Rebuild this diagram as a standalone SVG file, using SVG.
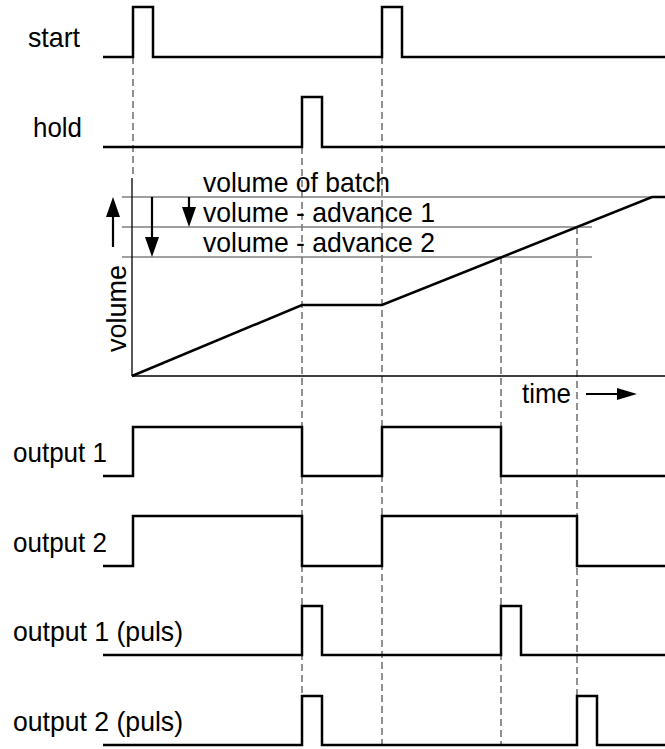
<svg xmlns="http://www.w3.org/2000/svg" width="665" height="749" viewBox="0 0 665 749">
<style>
text{font-family:"Liberation Sans",Arial,sans-serif;font-size:28px;fill:#000}
.sig{fill:none;stroke:#000;stroke-width:2.5;stroke-linejoin:miter}
.dash{fill:none;stroke:#222;stroke-width:1;stroke-dasharray:7 4}
.lvl{fill:none;stroke:#7f7f7f;stroke-width:1.6}
.axis{fill:none;stroke:#000;stroke-width:1.3}
.arr{fill:none;stroke:#000;stroke-width:2.2}
</style>
<rect width="665" height="749" fill="#fff"/>
<g id="guides">
<line class="dash" x1="133" y1="57" x2="133" y2="178"/>
<line class="dash" x1="302" y1="147" x2="302" y2="745"/>
<line class="dash" x1="382" y1="57" x2="382" y2="745"/>
<line class="dash" x1="501" y1="257" x2="501" y2="745"/>
<line class="dash" x1="577" y1="227" x2="577" y2="745"/>
</g>
<g id="start">
<text x="28" y="47" textLength="52" lengthAdjust="spacingAndGlyphs">start</text>
<path class="sig" d="M103,57H133V7H153V57H382V7H402V57H665"/>
</g>
<g id="hold">
<text x="33" y="137" textLength="49" lengthAdjust="spacingAndGlyphs">hold</text>
<path class="sig" d="M103,147H302V97H322V147H665"/>
</g>
<g id="volume-graph">
<line class="lvl" x1="122" y1="197" x2="665" y2="197"/>
<line class="lvl" x1="122" y1="227" x2="592" y2="227"/>
<line class="lvl" x1="122" y1="257" x2="592" y2="257"/>
<line class="axis" x1="132" y1="178" x2="132" y2="376"/>
<line class="axis" x1="132" y1="376" x2="665" y2="376"/>
<path class="sig" d="M132,376L302,305H382L652,197H665"/>
<text x="203" y="192" textLength="187" lengthAdjust="spacingAndGlyphs">volume of batch</text>
<text x="203" y="222" textLength="232" lengthAdjust="spacingAndGlyphs">volume - advance 1</text>
<text x="203" y="252" textLength="232" lengthAdjust="spacingAndGlyphs">volume - advance 2</text>
<text transform="translate(126,352) rotate(-90)" textLength="87" lengthAdjust="spacingAndGlyphs">volume</text>
<text x="522" y="403" textLength="49" lengthAdjust="spacingAndGlyphs">time</text>
<line class="arr" x1="113" y1="247" x2="113" y2="212"/>
<polygon points="113,197 106,217 120,217"/>
<line class="arr" x1="189" y1="197" x2="189" y2="212"/>
<polygon points="189,227 182,207 196,207"/>
<line class="arr" x1="152" y1="197" x2="152" y2="242"/>
<polygon points="152,257 145,237 159,237"/>
<line class="arr" x1="586" y1="394" x2="620" y2="394"/>
<polygon points="637,394 617,388 617,400"/>
</g>
<g id="output1">
<text x="13" y="462" textLength="94" lengthAdjust="spacingAndGlyphs">output 1</text>
<path class="sig" d="M103,476H133V427H302V476H382V427H501V476H665"/>
</g>
<g id="output2">
<text x="13" y="552" textLength="94" lengthAdjust="spacingAndGlyphs">output 2</text>
<path class="sig" d="M103,566H133V516H302V566H382V516H577V566H665"/>
</g>
<g id="output1-puls">
<text x="13" y="641" textLength="170" lengthAdjust="spacingAndGlyphs">output 1 (puls)</text>
<path class="sig" d="M103,655H302V606H322V655H501V606H521V655H665"/>
</g>
<g id="output2-puls">
<text x="13" y="731" textLength="170" lengthAdjust="spacingAndGlyphs">output 2 (puls)</text>
<path class="sig" d="M103,745H302V696H322V745H577V696H597V745H665"/>
</g>
</svg>
